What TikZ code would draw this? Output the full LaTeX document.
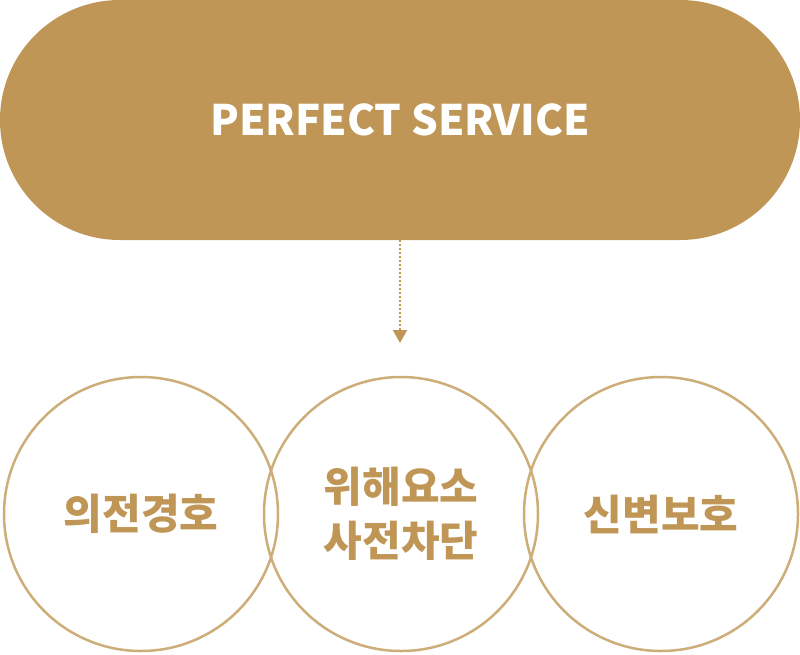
\documentclass[tikz,border=0pt]{standalone}
\usepackage{fontspec}
\setmainfont{Noto Sans CJK KR}
\usetikzlibrary{arrows.meta}
\definecolor{gold}{HTML}{BF9656}
\definecolor{lgold}{HTML}{CDAD78}
\tikzset{
  circ/.style={circle,draw=lgold,line width=2.5pt,minimum size=274pt,inner sep=0pt},
  lbl/.style={text=gold,font=\fontsize{42}{54}\selectfont\bfseries,align=center}
}
\begin{document}
\begin{tikzpicture}[x=1pt,y=-1pt]
\useasboundingbox (0,0) rectangle (800,654);
\fill[gold,rounded corners=119.9pt] (0,0) rectangle (800,240);
\node[text=white,font=\fontsize{42}{50}\selectfont\bfseries] (top) at (400,120) {PERFECT SERVICE};
\coordinate (s) at (400,240);
\coordinate (e) at (400,343);
\draw[gold,line width=2pt,dotted,-{Triangle[width=14pt,length=13pt]}] (s) -- (e);
\node[circ] (c1) at (141,514) {};
\node[circ] (c2) at (401,514) {};
\node[circ] (c3) at (661,514) {};
\node[lbl] at (c1) {의전경호};
\node[lbl] at (c2) {위해요소\\사전차단};
\node[lbl] at (c3) {신변보호};
\end{tikzpicture}
\end{document}
